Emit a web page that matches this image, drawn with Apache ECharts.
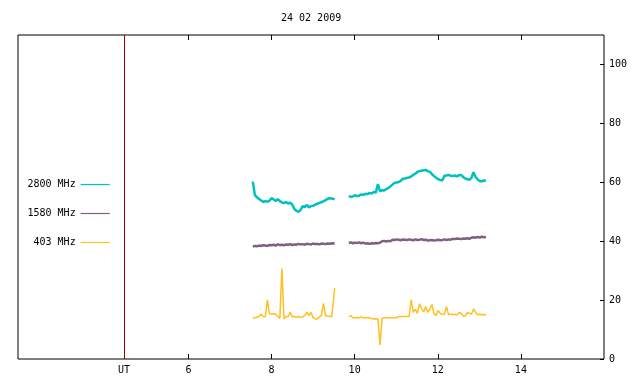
<!DOCTYPE html>
<html><head><meta charset="utf-8">
<script src="https://cdn.jsdelivr.net/npm/echarts@6/dist/echarts.min.js"></script>
<style>html,body{margin:0;padding:0;background:#fff}#c{width:640px;height:384px}</style>
</head><body><div id="c"></div>
<script>
const chartTitle = '24 02 2009';
const seriesNames = ['2800 MHz', '1580 MHz', '403 MHz'];
const seriesColors = ['#00c0c0', '#806080', '#ffc020'];

// sample times (UT hours), segment 1 and segment 2
const times1 = [7.55,7.60,7.65,7.70,7.75,7.80,7.85,7.90,7.95,8.00,
  8.05,8.10,8.15,8.20,8.25,8.30,8.35,8.40,8.45,8.50,
  8.55,8.60,8.65,8.70,8.75,8.80,8.85,8.90,8.95,9.00,
  9.05,9.10,9.15,9.20,9.25,9.30,9.35,9.40,9.45,9.52];
const times2 = [9.86,9.91,9.96,10.01,10.06,10.11,10.16,10.21,10.26,10.31,
  10.36,10.41,10.46,10.51,10.56,10.61,10.66,10.71,10.76,10.81,
  10.86,10.91,10.96,11.01,11.06,11.11,11.16,11.21,11.26,11.31,
  11.36,11.41,11.46,11.51,11.56,11.61,11.66,11.71,11.76,11.81,
  11.86,11.91,11.96,12.01,12.06,12.11,12.16,12.21,12.26,12.31,
  12.36,12.41,12.46,12.51,12.56,12.61,12.66,12.71,12.76,12.81,
  12.86,12.91,12.96,13.01,13.06,13.11,13.16];

// 2800 MHz
const flux2800a = [60.2,55.6,54.9,54.3,53.8,53.3,53.6,53.4,53.7,54.6,
  54.2,53.6,54.3,53.6,53.2,52.9,53.3,52.8,53.1,52.4,
  50.9,50.3,50.0,50.6,51.9,51.6,52.3,51.5,51.9,52.0,
  52.4,52.7,53.0,53.2,53.6,53.9,54.4,54.6,54.5,54.2];
const flux2800b = [55.4,55.0,55.2,55.6,55.3,55.4,55.9,55.7,56.1,56.0,
  56.4,56.2,56.7,56.5,59.4,57.0,57.3,57.2,57.7,58.0,
  58.6,59.2,59.8,59.9,60.1,60.5,61.2,61.3,61.5,61.6,
  62.0,62.5,62.9,63.5,63.8,63.9,64.1,64.2,63.8,63.5,
  62.8,62.1,61.5,61.0,60.8,60.6,62.2,62.3,62.5,62.2,
  62.1,62.3,62.0,62.4,62.5,61.8,61.3,61.1,60.8,61.5,
  63.4,61.8,61.0,60.4,60.3,60.6,60.5];

// 1580 MHz
const flux1580a = [38.2,38.4,38.3,38.5,38.4,38.6,38.5,38.4,38.7,38.6,
  38.8,38.5,38.9,38.7,38.8,38.6,38.9,38.8,39.0,38.7,
  38.9,38.8,39.1,38.9,39.0,38.8,39.1,39.0,38.9,39.2,
  39.0,39.1,38.9,39.2,39.1,39.0,39.2,39.1,39.3,39.2];
const flux1580b = [39.4,39.6,39.3,39.5,39.4,39.6,39.3,39.5,39.2,39.3,
  39.1,39.3,39.2,39.4,39.3,39.5,40.0,40.1,39.9,40.1,
  40.0,40.5,40.4,40.6,40.5,40.3,40.6,40.5,40.4,40.6,
  40.5,40.3,40.6,40.4,40.5,40.7,40.4,40.5,40.2,40.3,
  40.4,40.2,40.3,40.5,40.3,40.4,40.6,40.4,40.6,40.5,
  40.8,40.7,40.9,40.8,40.7,40.9,40.8,41.0,40.8,41.2,
  41.3,41.2,41.4,41.2,41.5,41.3,41.4];

// 403 MHz
const flux403a = [14.0,14.0,14.2,14.4,15.3,14.4,14.3,20.1,15.4,15.3,
  15.4,15.3,14.5,13.8,30.7,13.6,14.4,14.4,15.9,14.3,
  14.4,14.2,14.4,14.2,14.3,14.8,15.9,14.7,15.9,14.0,
  13.6,13.6,14.2,14.8,18.9,14.8,14.6,14.5,14.3,24.1];
const flux403b = [14.4,14.7,14.0,14.0,14.1,14.0,14.3,14.0,14.0,14.1,
  14.0,13.7,13.6,13.7,13.6,4.8,13.8,14.0,14.0,14.0,
  14.0,14.0,14.0,14.0,14.4,14.4,14.4,14.4,14.4,14.4,
  20.2,15.8,16.9,15.5,18.7,17.2,16.0,17.8,15.9,16.8,
  18.5,15.3,14.8,16.5,15.4,15.1,15.3,17.8,15.0,15.3,
  15.0,15.2,14.9,15.7,15.6,14.5,14.6,15.7,15.6,15.2,
  17.0,15.8,15.0,15.2,15.0,15.1,15.0];

const xTickValues = [6, 8, 10, 12, 14];
const utPosition = 4.45;
const utLabel = 'UT';
const yTickValues = [0, 20, 40, 60, 80, 100];
const xRange = [1.9, 16.0];
const yRange = [0, 110];

function buildData(ta, va, tb, vb) {
  const d = [];
  ta.forEach((t, i) => d.push([t, va[i]]));
  d.push([(ta[ta.length - 1] + tb[0]) / 2, '-']);
  tb.forEach((t, i) => d.push([t, vb[i]]));
  return d;
}
const allData = [
  buildData(times1, flux2800a, times2, flux2800b),
  buildData(times1, flux1580a, times2, flux1580b),
  buildData(times1, flux403a, times2, flux403b)
];
const lineWidths = [2.5, 2.5, 1.5];

const font = 'DejaVu Sans Mono';
const chart = echarts.init(document.getElementById('c'), null, {renderer: 'canvas'});
const series = seriesNames.map((name, i) => ({
  name: name,
  type: 'line',
  data: allData[i],
  symbol: 'none',
  showSymbol: false,
  connectNulls: false,
  color: seriesColors[i],
  lineStyle: {color: seriesColors[i], width: lineWidths[i]},
  z: 3 + i,
  animation: false
}));
series[0].markLine = {
  silent: true,
  symbol: ['none', 'none'],
  label: {show: false},
  lineStyle: {color: '#a00000', type: 'solid', width: 1},
  data: [{xAxis: utPosition}],
  animation: false
};

chart.setOption({
  animation: false,
  backgroundColor: '#fff',
  textStyle: {fontFamily: font},
  title: {
    text: chartTitle,
    left: 281, top: 13, padding: 0,
    textStyle: {fontFamily: font, fontSize: 10, fontWeight: 'normal', color: '#000'}
  },
  legend: {
    orient: 'vertical',
    align: 'right',
    left: 27.5, top: 179.5, padding: 0,
    icon: 'rect',
    itemWidth: 29, itemHeight: 1.2, itemGap: 19,
    textStyle: {fontFamily: font, fontSize: 10, color: '#000'},
    data: seriesNames,
    selectedMode: false
  },
  grid: {
    left: 18, right: 36, top: 35, bottom: 25,
    show: true, borderColor: '#000', borderWidth: 1, backgroundColor: 'transparent'
  },
  xAxis: [{
    type: 'value', min: xRange[0], max: xRange[1], position: 'bottom',
    axisLine: {show: false},
    splitLine: {show: false},
    axisTick: {show: true, inside: true, length: 5, customValues: xTickValues, lineStyle: {color: '#000'}},
    axisLabel: {
      show: true, margin: 6, color: '#000', fontFamily: font, fontSize: 10,
      customValues: [utPosition].concat(xTickValues),
      formatter: v => (Math.abs(v - utPosition) < 1e-6 ? utLabel : String(v))
    }
  }, {
    type: 'value', min: xRange[0], max: xRange[1], position: 'top',
    axisLine: {show: false},
    splitLine: {show: false},
    axisTick: {show: true, inside: true, length: 5, customValues: xTickValues, lineStyle: {color: '#000'}},
    axisLabel: {show: false}
  }],
  yAxis: {
    type: 'value', min: yRange[0], max: yRange[1], position: 'right',
    axisLine: {show: false},
    splitLine: {show: false},
    axisTick: {show: true, inside: true, length: 4, customValues: yTickValues, lineStyle: {color: '#000'}},
    axisLabel: {
      show: true, margin: 5, color: '#000', fontFamily: font, fontSize: 10,
      customValues: yTickValues
    }
  },
  series: series
});
</script>
</body></html>
